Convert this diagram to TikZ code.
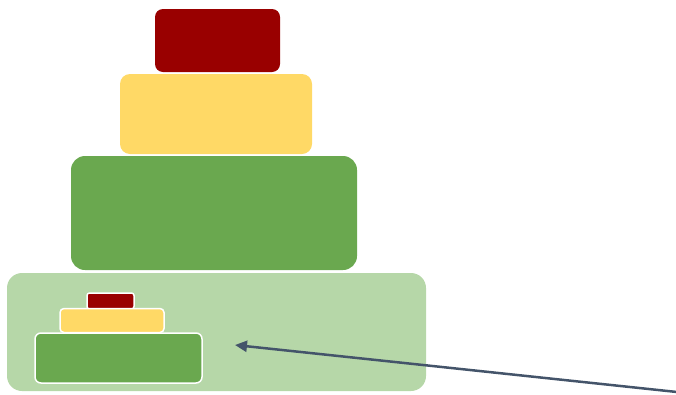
\documentclass[tikz,border=0pt]{standalone}
\usetikzlibrary{arrows.meta}
\definecolor{cred}{HTML}{990000}
\definecolor{cyel}{HTML}{FFD966}
\definecolor{cgrn}{HTML}{6AA84F}
\definecolor{clgr}{HTML}{B6D7A8}
\definecolor{carr}{HTML}{44546A}
\begin{document}
\begin{tikzpicture}[x=1pt,y=-1pt,
  blk/.style={draw=none, inner sep=0pt, outer sep=0pt},
  sblk/.style={draw=white, line width=1.5pt, inner sep=0pt, outer sep=0pt},
  arr/.style={draw=carr, line width=2.5pt, -{Triangle[length=12pt,width=11pt]}}]
\useasboundingbox (0,0) rectangle (676,394);
\node[blk, fill=cred, rounded corners=8pt, minimum width=125pt, minimum height=63pt] (top) at (217.5,40.5) {};
\node[blk, fill=cyel, rounded corners=10pt, minimum width=192pt, minimum height=80pt] (mid) at (216,114) {};
\node[blk, fill=cgrn, rounded corners=14pt, minimum width=286pt, minimum height=114pt] (bot) at (214,213) {};
\node[blk, fill=clgr, rounded corners=15pt, minimum width=419pt, minimum height=118pt] (base) at (216.5,332) {};
\node[sblk, fill=cred, rounded corners=2.5pt, minimum width=47pt, minimum height=16pt] (stop) at (110.5,301) {};
\node[sblk, fill=cyel, rounded corners=4pt, minimum width=104pt, minimum height=24pt] (smid) at (112,320.5) {};
\node[sblk, fill=cgrn, rounded corners=6pt, minimum width=167pt, minimum height=50pt] (sbot) at (118.5,358) {};
\coordinate (s) at (677,392);
\coordinate (t) at (235,345);
\draw[arr] (s) -- (t);
\end{tikzpicture}
\end{document}
